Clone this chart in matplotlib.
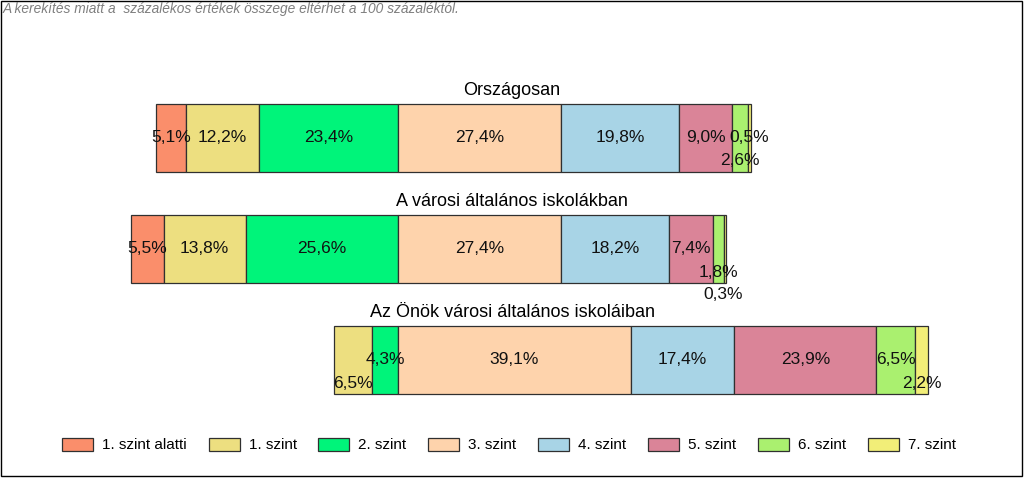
import matplotlib
matplotlib.use('Agg')
import matplotlib.pyplot as plt
from matplotlib.patches import Rectangle, Patch

plt.rcParams['font.family'] = ['Liberation Sans', 'DejaVu Sans']

categories = ['1. szint alatti', '1. szint', '2. szint', '3. szint',
              '4. szint', '5. szint', '6. szint', '7. szint']
groups = ['Országosan', 'A városi általános iskolákban',
          'Az Önök városi általános iskoláiban']
orszagos = [5.1, 12.2, 23.4, 27.4, 19.8, 9.0, 2.6, 0.5]
varosi = [5.5, 13.8, 25.6, 27.4, 18.2, 7.4, 1.8, 0.3]
onok = [0.0, 6.5, 4.3, 39.1, 17.4, 23.9, 6.5, 2.2]
data = [orszagos, varosi, onok]

colors = ['#FA8E6B', '#EDDF80', '#00F47A', '#FED3AC',
          '#A8D4E6', '#DA8498', '#AAF06F', '#F2EE78']

# label nudges in pixels (dx, dy down) where Excel moved them
nudge = {(0, 6): (0, 23), (1, 6): (0, 24), (1, 7): (-2, 46),
         (2, 1): (0, 23), (2, 7): (0, 23)}

fig = plt.figure(figsize=(10.24, 4.78), dpi=100)
ax = fig.add_axes([0, 0, 1, 1])
ax.axis('off')

px = 5.95  # pixels per percent
ax.set_xlim(-398 / px, (1024 - 398) / px)
ax.set_ylim((478 - 138) / 111, -138 / 111)

for i, vals in enumerate(data):
    # align bars at the start of "3. szint"
    left = -sum(vals[:3])
    for j, v in enumerate(vals):
        if v > 0:
            ax.barh(i, v, left=left, height=0.613, color=colors[j],
                    edgecolor='#303030', linewidth=0.9)
            dx, dy = nudge.get((i, j), (0, 0))
            ax.annotate(f'{v:.1f}%'.replace('.', ','),
                        (left + v / 2, i), xytext=(dx * 0.72, -dy * 0.72),
                        textcoords='offset points', ha='center', va='center',
                        fontsize=12.5, color='#111111')
        left += v
    ax.text(0.5, i - 0.43, groups[i], transform=ax.get_yaxis_transform(),
            ha='center', va='center', fontsize=13)

handles = [Patch(facecolor=c, edgecolor='#303030', linewidth=0.9) for c in colors]
fig.legend(handles, categories, loc='center', bbox_to_anchor=(0.497, 1 - 445 / 478),
           ncol=8, frameon=False, fontsize=11, handlelength=2.03, handleheight=0.92,
           handletextpad=0.59, columnspacing=1.42)

fig.text(0.003, 0.996, 'A kerekítés miatt a  százalékos értékek összege eltérhet a 100 százaléktól.',
         ha='left', va='top', style='italic', color='#7f7f7f', fontsize=9.9)

fig.patches.append(Rectangle((0.0005, 0.004), 0.9975, 0.9945, transform=fig.transFigure,
                             fill=False, edgecolor='black', linewidth=1))

fig.savefig('out.png', dpi=100)
